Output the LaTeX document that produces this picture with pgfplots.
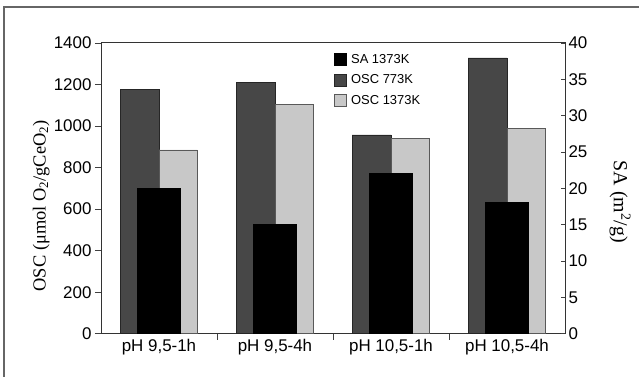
\documentclass[border=0pt]{standalone}
\usepackage{pgfplots}
\pgfplotsset{compat=1.18}
\usepackage{pgfplotstable}
\usepackage{fontspec}
\setmainfont{Liberation Sans}
\newfontfamily\serif{Liberation Serif}

\pgfplotstableread{
x osc773 osc1373 sa
0 1177 885 20.0
1 1211 1106 15.0
2 957 941 22.0
3 1328 989 18.0
}\data

\definecolor{darkbar}{HTML}{474747}
\definecolor{lightbar}{HTML}{C8C8C8}

\begin{document}
\begin{tikzpicture}
\path[use as bounding box] (0,0) rectangle (639bp,377bp);
\draw[black!60, line width=1.5bp] (4bp,0) -- (4bp,370bp) -- (639bp,370bp);
\pgfplotsset{
  base/.style={
    scale only axis, width=464bp, height=290.7bp,
    at={(101bp,43.3bp)}, anchor=south west,
    xmin=-0.5, xmax=3.5, ymin=0,
    axis line style={line width=1bp, black!80},
    tick style={line width=0.8bp, black!75},
    ticklabel style={font=\fontsize{17}{19}\selectfont},
    /pgf/number format/assume math mode=true,
    /pgf/number format/1000 sep={},
    sq/.style={legend image code/.code={\draw[##1, line width=0.8bp] (0bp,-6bp) rectangle (12bp,6bp);}},
  }
}
\begin{axis}[base, ymax=1400, ytick={0,200,...,1400}, ytick pos=left,
  tick align=outside, major tick length=6bp,
  xtick={0.5,1.5,2.5}, xticklabels={}, xtick pos=bottom,
  extra x ticks={0,1,2,3},
  extra x tick labels={{pH 9,5-1h},{pH 9,5-4h},{pH 10,5-1h},{pH 10,5-4h}},
  extra x tick style={major tick length=0pt, tick label style={yshift=-2bp}},
  ylabel={\serif\fontsize{18.5}{20}\selectfont OSC (μmol O\textsubscript{2}/gCeO\textsubscript{2})},
  ylabel style={at={(axis description cs:-0.129,0.44)}, anchor=center},
]
\addplot[ybar, bar width=0.336, bar shift=-0.168, fill=darkbar, draw=black!85, line width=0.8bp] table[x=x,y=osc773]{\data};
\addplot[ybar, bar width=0.33, bar shift=0.165, fill=lightbar, draw=black!65, line width=0.8bp] table[x=x,y=osc1373]{\data};
\end{axis}
\begin{axis}[base, ymax=40, ytick={0,5,...,40}, axis y line*=right, axis x line=none,
  tick align=inside, major tick length=4bp,
  ylabel={\serif\fontsize{20}{22}\selectfont SA (m\textsuperscript{2}/g)},
  ylabel style={at={(axis description cs:1.1185,0.453)}, anchor=center, rotate=180},
  legend style={draw=none, fill=none, at={(0.496,0.976)}, anchor=north west,
    font=\fontsize{13}{15}\selectfont, row sep=6bp,
    nodes={inner xsep=4bp}},
  legend cell align=left,
]
\addplot[ybar, sq, bar width=0.37, bar shift=0, fill=black, draw=black, line width=0.8bp] table[x=x,y=sa]{\data};
\addlegendentry{SA 1373K}
\addlegendimage{sq, fill=darkbar, draw=black!85}
\addlegendentry{OSC 773K}
\addlegendimage{sq, fill=lightbar, draw=black!65}
\addlegendentry{OSC 1373K}
\end{axis}
\end{tikzpicture}
\end{document}
